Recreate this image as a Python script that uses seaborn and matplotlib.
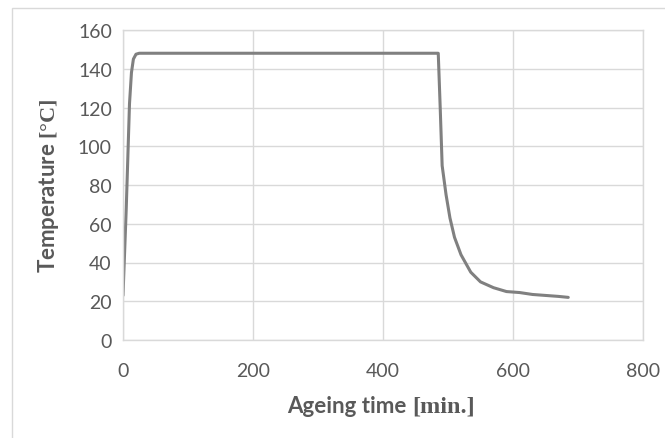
import matplotlib
matplotlib.use("Agg")
import matplotlib.pyplot as plt
import seaborn as sns
import pandas as pd
from matplotlib.patches import Rectangle
from matplotlib.offsetbox import TextArea, HPacker, AnnotationBbox

# curve
ageing_time = [0, 5, 10, 13, 16, 20, 25, 485, 488, 491, 497, 503, 510, 520,
               535, 550, 570, 590, 610, 630, 650, 670, 685]
temperature = [23, 68, 122, 138, 145, 147.5, 148, 148, 120, 90, 75, 63, 53, 44,
               35, 30, 27, 25, 24.5, 23.5, 23, 22.5, 22]

x_ticks = [0, 200, 400, 600, 800]
y_ticks = [0, 20, 40, 60, 80, 100, 120, 140, 160]

df = pd.DataFrame({'time': ageing_time, 'temp': temperature})

sns.set_style('white')
plt.rcParams['font.family'] = ['Lato', 'DejaVu Sans']
plt.rcParams['mathtext.fontset'] = 'custom'
plt.rcParams['mathtext.bf'] = 'Liberation Serif:bold'
plt.rcParams['mathtext.rm'] = 'Liberation Serif'

grid_col = '#d9d9d9'
text_col = '#595959'

fig = plt.figure(figsize=(6.65, 4.39), dpi=100)
ax = fig.add_axes([123 / 665, 1 - 341 / 439, (643 - 123) / 665, (341 - 31) / 439])

# outer chart border (cut at right and bottom like the reference)
fig.patches.append(Rectangle((12 / 665, -0.1), 1.2, 1 - 9 / 439 + 0.1,
                             transform=fig.transFigure, fill=False,
                             edgecolor=grid_col, linewidth=1.0))

sns.lineplot(data=df, x='time', y='temp', ax=ax, color='#808080',
             linewidth=2.2, sort=False)

ax.set_xlim(0, 800)
ax.set_ylim(0, 160)
ax.set_xticks(x_ticks)
ax.set_yticks(y_ticks)
ax.grid(True, color=grid_col, linewidth=1.0)
for s in ax.spines.values():
    s.set_color(grid_col)
    s.set_linewidth(1.0)
ax.tick_params(axis='both', length=0, labelsize=14, colors=text_col, pad=8)
ax.tick_params(axis='x', pad=16)

# x label: sans part + serif unit, packed side by side
ax.set_xlabel('')
lab_sans = TextArea('Ageing time', textprops=dict(fontsize=16, fontweight='bold',
                                                   color=text_col))
lab_serif = TextArea('[min.]', textprops=dict(fontsize=17.5, fontweight='bold',
                                               color=text_col,
                                               family='Liberation Serif'))
pack = HPacker(children=[lab_sans, lab_serif], align='baseline', pad=0, sep=4)
fig.add_artist(AnnotationBbox(pack, (381 / 665, 1 - 407 / 439),
                              xycoords='figure fraction', frameon=False,
                              box_alignment=(0.5, 0.5)))

ax.set_ylabel(r'Temperature $\mathbf{[°C]}$', fontsize=16, fontweight='bold',
              color=text_col, labelpad=12)

fig.savefig('out.png', dpi=100)
